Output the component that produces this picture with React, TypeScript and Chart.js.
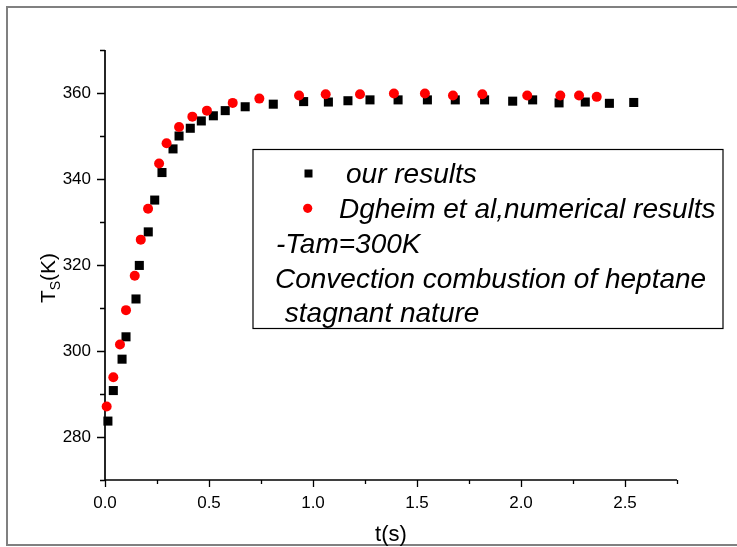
import React, { useEffect, useRef } from 'react';
import { Chart, registerables } from 'chart.js';

Chart.register(...registerables);

// ---- data ----
const ourTime = [0.014, 0.04, 0.082, 0.101, 0.149, 0.165, 0.208, 0.239, 0.274, 0.327, 0.356, 0.41, 0.463, 0.521, 0.578, 0.674, 0.809, 0.955, 1.074, 1.168, 1.274, 1.409, 1.55, 1.684, 1.825, 1.96, 2.056, 2.183, 2.309, 2.425, 2.542];
const ourTs = [283.7, 290.8, 298.1, 303.3, 312.1, 319.9, 327.7, 335.1, 341.5, 347.0, 350.0, 351.8, 353.5, 354.7, 355.9, 356.8, 357.4, 358.0, 357.9, 358.2, 358.4, 358.4, 358.4, 358.4, 358.4, 358.1, 358.4, 357.7, 357.9, 357.6, 357.8];

const dgTime = [0.008, 0.04, 0.072, 0.101, 0.143, 0.172, 0.207, 0.26, 0.296, 0.356, 0.42, 0.49, 0.614, 0.742, 0.933, 1.061, 1.226, 1.389, 1.538, 1.673, 1.814, 2.03, 2.189, 2.279, 2.364];
const dgTs = [287.1, 293.9, 301.5, 309.5, 317.5, 325.9, 333.1, 343.6, 348.3, 352.1, 354.5, 355.9, 357.7, 358.7, 359.4, 359.7, 359.7, 359.9, 359.9, 359.4, 359.7, 359.4, 359.4, 359.4, 359.1];

const xMajorTicks = [0, 0.5, 1.0, 1.5, 2.0, 2.5];
const yMajorTicks = [280, 300, 320, 340, 360];

const seriesNames = ['our results', 'Dgheim et al,numerical results'];
const noteLines = ['-Tam=300K', 'Convection combustion of heptane', ' stagnant nature'];
const xTitle = 't(s)';
const yTitleMain = 'T';
const yTitleSub = 'S';
const yTitleRest = '(K)';

const FONT = '"Liberation Sans", Arial, Helvetica, sans-serif';
const TICK_FONT = `17px ${FONT}`;

const isMajor = (v: number, list: number[]) => list.some((m) => Math.abs(m - v) < 1e-6);

const decorPlugin = {
  id: 'decor',
  beforeDraw(chart: any) {
    const ctx = chart.ctx as CanvasRenderingContext2D;
    ctx.save();
    ctx.fillStyle = '#ffffff';
    ctx.fillRect(0, 0, chart.width, chart.height);
    // outer grey frame (left, top, bottom)
    ctx.strokeStyle = '#808080';
    ctx.lineWidth = 2;
    ctx.beginPath();
    ctx.moveTo(chart.width, 7);
    ctx.lineTo(7, 7);
    ctx.lineTo(7, 545);
    ctx.lineTo(chart.width, 545);
    ctx.stroke();
    ctx.restore();
  },
  beforeDatasetsDraw(chart: any) {
    const ctx = chart.ctx as CanvasRenderingContext2D;
    const { chartArea, scales } = chart;
    const x = scales.x;
    const y = scales.y;
    ctx.save();
    ctx.strokeStyle = '#000';
    ctx.lineWidth = 1.7;
    ctx.beginPath();
    ctx.moveTo(chartArea.left, chartArea.top);
    ctx.lineTo(chartArea.left, chartArea.bottom);
    ctx.lineTo(chartArea.right, chartArea.bottom);
    ctx.stroke();
    ctx.lineWidth = 1.3;
    ctx.beginPath();
    x.ticks.forEach((t: any) => {
      const px = Math.round(x.getPixelForValue(t.value)) + 0.5;
      const len = isMajor(t.value, xMajorTicks) ? 7 : 4;
      ctx.moveTo(px, chartArea.bottom);
      ctx.lineTo(px, chartArea.bottom + len);
    });
    y.ticks.forEach((t: any) => {
      const py = Math.round(y.getPixelForValue(t.value)) + 0.5;
      const len = isMajor(t.value, yMajorTicks) ? 8 : 5;
      ctx.moveTo(chartArea.left, py);
      ctx.lineTo(chartArea.left - len, py);
    });
    ctx.stroke();

    // tick labels, placed by the scales
    ctx.fillStyle = '#000';
    ctx.font = TICK_FONT;
    ctx.textAlign = 'center';
    ctx.textBaseline = 'alphabetic';
    xMajorTicks.forEach((v) => {
      ctx.fillText(v.toFixed(1), x.getPixelForValue(v), 507.5);
    });
    ctx.textAlign = 'right';
    ctx.textBaseline = 'middle';
    yMajorTicks.forEach((v) => {
      ctx.fillText(String(v), chartArea.left - 14, y.getPixelForValue(v) + 0.5);
    });
    ctx.restore();
  },
  afterDraw(chart: any) {
    const ctx = chart.ctx as CanvasRenderingContext2D;
    const { chartArea } = chart;
    ctx.save();
    ctx.fillStyle = '#000';
    // x title
    ctx.font = `22px ${FONT}`;
    ctx.textAlign = 'center';
    ctx.textBaseline = 'alphabetic';
    ctx.fillText(xTitle, (chartArea.left + chartArea.right) / 2, 541);

    // y title, rotated, with subscript
    ctx.save();
    ctx.translate(55, 278);
    ctx.rotate(-Math.PI / 2);
    ctx.textAlign = 'left';
    const mainF = `21px ${FONT}`;
    const subF = `14px ${FONT}`;
    ctx.font = mainF;
    const w1 = ctx.measureText(yTitleMain).width;
    const w3 = ctx.measureText(yTitleRest).width;
    ctx.font = subF;
    const w2 = ctx.measureText(yTitleSub).width;
    const total = w1 + w2 + w3;
    let cx = -total / 2;
    ctx.font = mainF;
    ctx.fillText(yTitleMain, cx, 0);
    cx += w1;
    ctx.font = subF;
    ctx.fillText(yTitleSub, cx, 5);
    cx += w2;
    ctx.font = mainF;
    ctx.fillText(yTitleRest, cx, 0);
    ctx.restore();

    // legend box
    ctx.strokeStyle = '#000';
    ctx.lineWidth = 1.2;
    ctx.strokeRect(253, 149.5, 470, 179);
    // markers
    ctx.fillStyle = '#000';
    ctx.fillRect(304.5, 169.5, 8, 8);
    ctx.fillStyle = '#ff0000';
    ctx.beginPath();
    ctx.arc(307.7, 208.3, 4.6, 0, Math.PI * 2);
    ctx.fill();
    // texts
    ctx.fillStyle = '#000';
    ctx.font = `italic 28px ${FONT}`;
    ctx.textAlign = 'left';
    ctx.textBaseline = 'alphabetic';
    ctx.fillText(seriesNames[0], 346, 182.5);
    ctx.fillText(seriesNames[1], 339, 217.5);
    ctx.fillText(noteLines[0], 276, 252.5);
    ctx.fillText(noteLines[1], 275, 288);
    ctx.fillText(noteLines[2], 277, 321.5);
    ctx.restore();
  },
};

export default function App() {
  const ref = useRef<HTMLCanvasElement | null>(null);

  useEffect(() => {
    if (!ref.current) return;
    const chart = new Chart(ref.current, {
      type: 'scatter',
      data: {
        datasets: [
          {
            label: seriesNames[1],
            data: dgTime.map((t, i) => ({ x: t, y: dgTs[i] })),
            pointStyle: 'circle',
            pointRadius: 5,
            pointHoverRadius: 5,
            backgroundColor: '#ff0000',
            borderColor: '#ff0000',
            borderWidth: 0,
            clip: false,
            order: 0,
          },
          {
            label: seriesNames[0],
            data: ourTime.map((t, i) => ({ x: t, y: ourTs[i] })),
            pointStyle: 'rect',
            pointRadius: 6.4,
            pointHoverRadius: 6.4,
            backgroundColor: '#000000',
            borderColor: '#000000',
            borderWidth: 0,
            clip: false,
            order: 1,
          },
        ],
      },
      options: {
        responsive: false,
        animation: false,
        devicePixelRatio: 1,
        layout: { padding: { top: 50, right: 60, left: 0, bottom: 0 } },
        plugins: {
          legend: { display: false },
          tooltip: { enabled: false },
          title: { display: false },
        },
        events: [],
        scales: {
          x: {
            type: 'linear',
            min: 0,
            max: 2.75,
            grid: { display: false, drawTicks: false },
            border: { display: false },
            ticks: { stepSize: 0.25, display: false, autoSkip: false },
            afterFit: (s: any) => {
              s.height = 67;
            },
          },
          y: {
            type: 'linear',
            min: 270,
            max: 370,
            grid: { display: false, drawTicks: false },
            border: { display: false },
            ticks: { stepSize: 10, display: false, autoSkip: false },
            afterFit: (s: any) => {
              s.width = 105;
            },
          },
        },
      },
      plugins: [decorPlugin],
    });
    return () => chart.destroy();
  }, []);

  return (
    <div style={{ position: 'absolute', left: 0, top: 0, width: 737, height: 547, background: '#fff' }}>
      <canvas ref={ref} width={737} height={547} style={{ display: 'block', width: 737, height: 547 }} />
    </div>
  );
}
